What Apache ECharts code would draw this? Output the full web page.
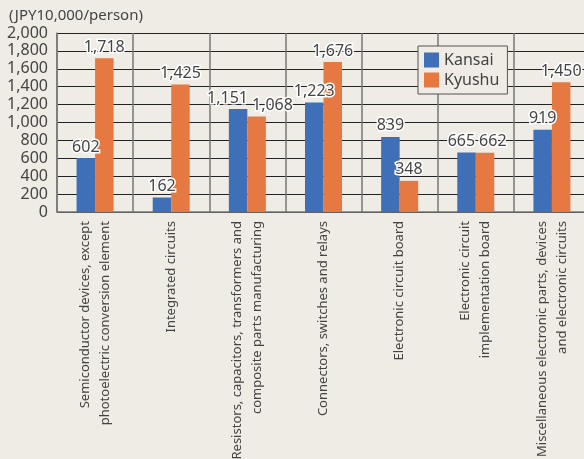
<!DOCTYPE html>
<html><head><meta charset="utf-8">
<script src="https://cdn.jsdelivr.net/npm/echarts@6/dist/echarts.min.js"></script>
<style>html,body{margin:0;padding:0;background:#efebe5;}#c{width:584px;height:459px;}</style>
</head><body><div id="c"></div>
<script>
const categories = [
  "Semiconductor devices, except\nphotoelectric conversion element",
  "Integrated circuits",
  "Resistors, capacitors, transformers and\ncomposite parts manufacturing",
  "Connectors, switches and relays",
  "Electronic circuit board",
  "Electronic circuit\nimplementation board",
  "Miscellaneous electronic parts, devices\nand electronic circuits"
];
const kansai = [602, 162, 1151, 1223, 839, 665, 919];
const kyushu = [1718, 1425, 1068, 1676, 348, 662, 1450];
const yTicks = [0, 200, 400, 600, 800, 1000, 1200, 1400, 1600, 1800, 2000];
const unitLabel = "(JPY10,000/person)";

const seriesValues = [kansai, kyushu];
const fmt = v => Number(v).toLocaleString('en-US');
const FONT = "'Noto Sans', sans-serif";
const labelStyle = {
  show: true, position: 'top', distance: 3,
  color: '#444', fontSize: 16, fontFamily: FONT,
  textBorderColor: '#fff', textBorderWidth: 3,
  formatter: p => fmt(p.value)
};
// push apart labels of the two bars in a category when they would collide
function spreadLabels(params) {
  const s = params.seriesIndex, i = params.dataIndex;
  const v = seriesValues[s][i], ov = seriesValues[1 - s][i];
  const r = params.rect, lr = params.labelRect;
  if (!v) return {};
  const scale = r.height / v;
  const dyPix = Math.abs(v - ov) * scale;
  if (dyPix >= lr.height - 2) return {};
  const otherW = lr.width * (fmt(ov).length / fmt(v).length);
  const need = (lr.width + otherW) / 2 - r.width + 1;
  if (need <= 0) return {};
  return {dx: s === 0 ? -need * 0.4 : need * 0.6};
}
const chart = echarts.init(document.getElementById('c'));
chart.setOption({
  backgroundColor: '#efebe5',
  animation: false,
  title: {
    text: unitLabel, left: 4, top: 3,
    textStyle: {color: '#444', fontSize: 15, fontWeight: 'normal', fontFamily: FONT}
  },
  legend: {
    orient: 'vertical', left: 418, top: 46,
    padding: [6, 8, 6, 6], itemGap: 4,
    itemWidth: 15, itemHeight: 15,
    borderColor: '#555', borderWidth: 1, backgroundColor: '#efebe5',
    textStyle: {color: '#444', fontSize: 16, fontFamily: FONT},
    icon: 'rect',
    data: ['Kansai', 'Kyushu']
  },
  grid: {left: 57, right: -6, top: 33, bottom: 247, containLabel: false, outerBoundsMode: 'none'},
  xAxis: {
    type: 'category', data: categories,
    axisTick: {show: false},
    axisLine: {show: true, lineStyle: {color: '#777', width: 1.5}},
    splitLine: {show: true, interval: 0, lineStyle: {color: '#777', width: 1.5}},
    axisLabel: {
      interval: 0, rotate: 90, margin: 9, color: '#444',
      fontSize: 13, lineHeight: 20, fontFamily: FONT
    }
  },
  yAxis: {
    type: 'value', min: yTicks[0], max: yTicks[yTicks.length - 1], interval: 200,
    axisLine: {show: true, lineStyle: {color: '#777', width: 1.5}},
    axisTick: {show: false},
    splitLine: {show: true, lineStyle: {color: '#222', width: 1}},
    axisLabel: {color: '#444', fontSize: 16, fontFamily: FONT, margin: 9, formatter: v => fmt(v)}
  },
  series: [
    {name: 'Kansai', type: 'bar', data: kansai, barWidth: 18.5, barGap: '0%',
     itemStyle: {color: '#3e6fb7'}, label: labelStyle, labelLayout: spreadLabels},
    {name: 'Kyushu', type: 'bar', data: kyushu, barWidth: 18.5, barGap: '0%',
     itemStyle: {color: '#e67942'}, label: labelStyle, labelLayout: spreadLabels}
  ]
});
</script></body></html>
